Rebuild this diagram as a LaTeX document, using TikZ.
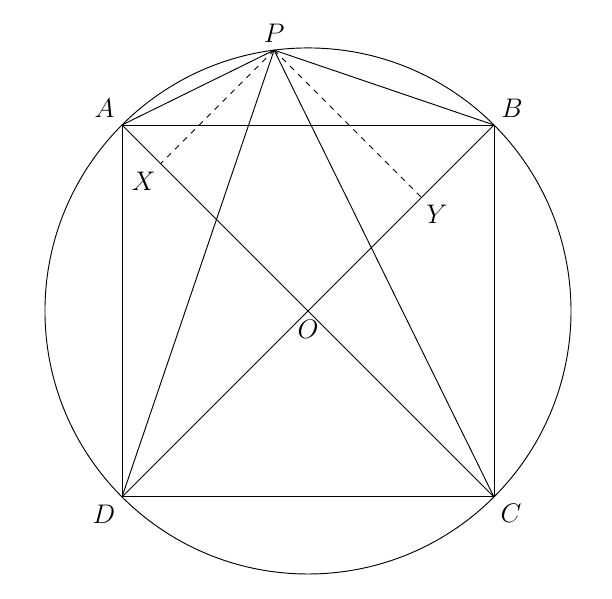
\documentclass[tikz,border=0pt]{standalone}
\usepackage{tikz}
\usetikzlibrary{calc}
\tikzset{pt/.style={font=\fontsize{15.5}{18}\selectfont}}

\begin{document}
\begin{tikzpicture}[line width=0.5pt]
			%%%%% START %%%%%
			
			\useasboundingbox (-5.796, -5.420) rectangle (5.721, 5.852);
			
			\coordinate (O) at (0, 0);
			\coordinate (A) at (-3.5, 3.5);
			\coordinate (B) at (3.5, 3.5);
			\coordinate (C) at (3.5, -3.5);
			\coordinate (D) at (-3.5, -3.5);
			\coordinate (P) at (97.4:4.9497);
			\coordinate (X) at ($(A)!(P)!(C)$);
			\coordinate (Y) at ($(B)!(P)!(D)$);
			
			\draw (O) circle (4.9497);
			\draw (A) -- (B) -- (C) -- (D) -- cycle;
			\draw (A) -- (C);
			\draw (B) -- (D);
			
			\draw (P) -- (A);
			\draw (P) -- (B);
			\draw (P) -- (C);
			\draw (P) -- (D);
			
			\draw[dashed] (P) -- (X);
			\draw[dashed] (P) -- (Y);
			
			\node[pt] (lP) at ($(P)+(0, 0.31)$) {$P$};
			\node[pt] (lA) at ($(A)+(-0.33, 0.32)$) {$A$};
			\node[pt] (lB) at ($(B)+(0.34, 0.32)$) {$B$};
			\node[pt] (lC) at ($(C)+(0.32, -0.31)$) {$C$};
			\node[pt] (lD) at ($(D)+(-0.34, -0.32)$) {$D$};
			\node[pt] (lO) at ($(O)+(0, -0.35)$) {$O$};
			\node[pt] (lX) at ($(X)+(-0.32, -0.34)$) {$X$};
			\node[pt] (lY) at ($(Y)+(0.29, -0.32)$) {$Y$};
			
			%%%%% END %%%%%
		\end{tikzpicture}
\end{document}
